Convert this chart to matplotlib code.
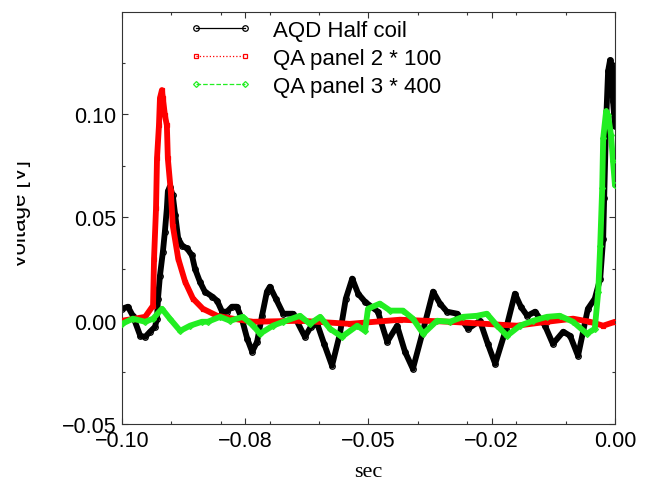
import matplotlib
matplotlib.use("Agg")
import matplotlib.pyplot as plt
from matplotlib.ticker import MultipleLocator, FixedLocator, FixedFormatter
from matplotlib.transforms import Bbox

# AQD Half coil
t_coil = [-0.1000, -0.0988, -0.0978, -0.0963, -0.0953, -0.0943, -0.0933, -0.0929, -0.0927, -0.0923,
          -0.0917, -0.0913, -0.0909, -0.0907, -0.0903, -0.0897, -0.0892, -0.0886, -0.0878, -0.0868,
          -0.0858, -0.0852, -0.0842, -0.0832, -0.0817, -0.0807, -0.0797, -0.0787, -0.0777, -0.0767,
          -0.0757, -0.0746, -0.0736, -0.0726, -0.0716, -0.0706, -0.0700, -0.0688, -0.0673, -0.0653,
          -0.0629, -0.0617, -0.0604, -0.0590, -0.0574, -0.0558, -0.0546, -0.0533, -0.0521, -0.0507,
          -0.0481, -0.0462, -0.0442, -0.0426, -0.0410, -0.0391, -0.0369, -0.0355, -0.0341, -0.0320,
          -0.0298, -0.0274, -0.0258, -0.0243, -0.0221, -0.0203, -0.0191, -0.0178, -0.0162, -0.0142,
          -0.0126, -0.0105, -0.0091, -0.0075, -0.0055, -0.0041, -0.0030, -0.0024, -0.0022, -0.0018,
          -0.0014, -0.0010, -0.0006, -0.0004, 0.0000]
v_coil = [0.0058, 0.0068, 0.0024, -0.0073, -0.0078, -0.0053, -0.0029, 0.0010, 0.0107, 0.0218,
          0.0335, 0.0432, 0.0544, 0.0626, 0.0650, 0.0607, 0.0510, 0.0398, 0.0364, 0.0350,
          0.0316, 0.0252, 0.0189, 0.0141, 0.0117, 0.0097, 0.0044, 0.0044, 0.0068, 0.0068,
          0.0010, -0.0087, -0.0150, -0.0102, 0.0024, 0.0141, 0.0165, 0.0107, 0.0034, 0.0034,
          -0.0078, -0.0029, -0.0015, -0.0112, -0.0218, -0.0063, 0.0107, 0.0204, 0.0131, 0.0092,
          0.0044, -0.0102, -0.0024, -0.0150, -0.0233, -0.0063, 0.0141, 0.0083, 0.0044, 0.0034,
          -0.0039, 0.0000, -0.0112, -0.0209, -0.0039, 0.0131, 0.0068, 0.0024, 0.0044, -0.0024,
          -0.0112, -0.0053, -0.0073, -0.0170, 0.0058, 0.0107, 0.0204, 0.0398, 0.0592, 0.0966,
          0.1209, 0.1262, 0.1238, 0.1063, 0.0942]

# QA panel 2 (x100)
t_p2 = [-0.1000, -0.0974, -0.0953, -0.0937, -0.0935, -0.0931, -0.0929, -0.0925, -0.0923, -0.0919,
        -0.0917, -0.0913, -0.0909, -0.0907, -0.0901, -0.0897, -0.0886, -0.0872, -0.0856, -0.0836,
        -0.0807, -0.0775, -0.0734, -0.0639, -0.0538, -0.0436, -0.0335, -0.0199, -0.0138, -0.0085,
        -0.0051, -0.0024, 0.0000]
v_p2 = [0.0000, 0.0010, 0.0019, 0.0073, 0.0301, 0.0544, 0.0786, 0.0947, 0.1078, 0.1117,
        0.1078, 0.0995, 0.0947, 0.0786, 0.0626, 0.0461, 0.0301, 0.0189, 0.0107, 0.0058,
        0.0024, 0.0010, -0.0005, 0.0000, -0.0015, 0.0005, -0.0005, -0.0024, -0.0005, 0.0010,
        -0.0005, -0.0024, -0.0005]

# QA panel 3 (x400)
t_p3 = [-0.1000, -0.0978, -0.0953, -0.0937, -0.0919, -0.0903, -0.0882, -0.0862, -0.0838, -0.0826,
        -0.0801, -0.0781, -0.0755, -0.0734, -0.0720, -0.0694, -0.0673, -0.0639, -0.0619, -0.0598,
        -0.0578, -0.0554, -0.0523, -0.0507, -0.0501, -0.0477, -0.0456, -0.0430, -0.0410, -0.0389,
        -0.0361, -0.0335, -0.0308, -0.0280, -0.0260, -0.0239, -0.0219, -0.0193, -0.0166, -0.0138,
        -0.0112, -0.0085, -0.0057, -0.0041, -0.0034, -0.0030, -0.0026, -0.0024, -0.0018, -0.0014,
        -0.0008, -0.0004, 0.0000]
v_p3 = [-0.0015, 0.0010, -0.0005, 0.0010, 0.0058, 0.0010, -0.0049, -0.0024, -0.0005, -0.0005,
        0.0019, 0.0000, 0.0019, -0.0024, -0.0063, -0.0024, -0.0005, 0.0024, -0.0015, 0.0019,
        -0.0039, -0.0078, -0.0024, -0.0049, 0.0058, 0.0083, 0.0049, 0.0049, 0.0010, -0.0063,
        0.0000, -0.0005, 0.0019, 0.0024, 0.0034, -0.0024, -0.0073, -0.0024, 0.0000, 0.0019,
        0.0024, -0.0005, -0.0063, -0.0039, 0.0141, 0.0364, 0.0641, 0.0883, 0.1015, 0.0995,
        0.0898, 0.0772, 0.0655]

labels = ["AQD Half coil", "QA panel 2 * 100", "QA panel 3 * 400"]
x_ticks = [-0.1, -0.075, -0.05, -0.025, 0.0]
x_tick_labels = ["\u22120.10", "\u22120.08", "\u22120.05", "\u22120.02", "0.00"]
y_ticks = [-0.05, 0.0, 0.05, 0.10]
y_tick_labels = ["\u22120.05", "0.00", "0.05", "0.10"]

sans = "Liberation Sans"

fig = plt.figure(figsize=(6.47, 4.85), dpi=100)
ax = fig.add_axes([0.18856, 0.12371, 0.76198, 0.84948])

series = [
    (t_coil, v_coil, "black", "-", "o", 4.0),
    (t_p2, v_p2, "#ff0000", ":", "s", 3.5),
    (t_p3, v_p3, "#22ee22", "--", "D", 3.0),
]
for i, (t, v, c, ls, mk, ms) in enumerate(series):
    z = 2 + i
    # dense samples in the original merge into a thick band
    ax.plot(t, v, color=c, lw=4.2, solid_joinstyle="round", solid_capstyle="round", zorder=z)
    ax.plot(t, v, color=c, lw=0.9, ls=ls, marker=mk, ms=ms, mfc="none", mew=0.9,
            label=labels[i], zorder=z + 0.5)

ax.set_xlim(-0.1, 0.0)
ax.set_ylim(-0.05, 0.1495)
ax.xaxis.set_major_locator(FixedLocator(x_ticks))
ax.xaxis.set_major_formatter(FixedFormatter(x_tick_labels))
ax.xaxis.set_minor_locator(MultipleLocator(0.01))
ax.yaxis.set_major_locator(FixedLocator(y_ticks))
ax.yaxis.set_major_formatter(FixedFormatter(y_tick_labels))
ax.yaxis.set_minor_locator(MultipleLocator(0.025))

ax.tick_params(which="both", direction="in", top=True, right=True, width=0.8, color="#333333")
ax.tick_params(which="major", length=4.5, labelsize=15.5, pad=4)
ax.tick_params(which="minor", length=2.3)
for lab in ax.get_xticklabels() + ax.get_yticklabels():
    lab.set_fontfamily(sans)
for s in ax.spines.values():
    s.set_linewidth(0.8)
    s.set_color("#333333")

ax.set_xlabel("sec", family="Liberation Serif", fontsize=16, labelpad=8)

ylab = fig.text(31 / 647, 1 - 214 / 485, "Voltage [V]", rotation=90, ha="right", va="center",
                family=sans, fontsize=16)
ylab.set_clip_box(Bbox.from_extents(17, 0, 647, 485))
ylab.set_clip_on(True)

ax.legend(loc="upper left", bbox_to_anchor=(0.136, 0.98), frameon=False, numpoints=2,
          handlelength=2.8, handletextpad=1.0, labelspacing=0.3, borderpad=0, borderaxespad=0,
          prop={"family": sans, "size": 16})

fig.savefig("out.png", dpi=100)
